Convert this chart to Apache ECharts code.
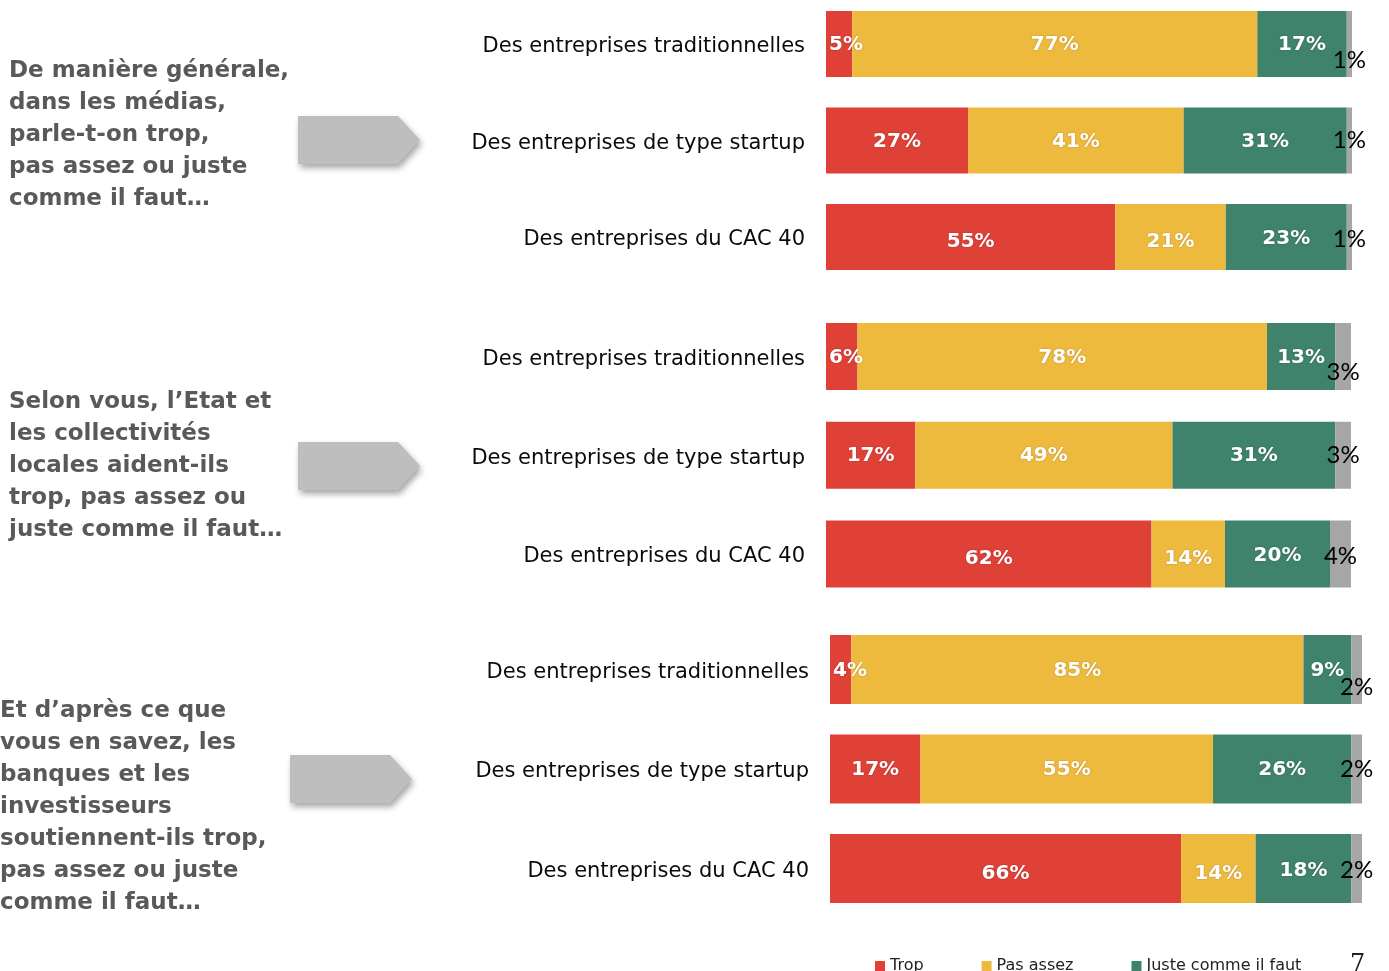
<!DOCTYPE html>
<html>
<head>
<meta charset="utf-8">
<script src="https://cdn.jsdelivr.net/npm/echarts@6/dist/echarts.min.js"></script>
<style>html,body{margin:0;padding:0;background:#fff;}#c{width:1389px;height:971px;}</style>
</head>
<body>
<div id="c"></div>
<script>
const categories = ['Des entreprises traditionnelles', 'Des entreprises de type startup', 'Des entreprises du CAC 40'];
const seriesNames = ['Trop', 'Pas assez', 'Juste comme il faut', 'NSP'];
const legendNames = ['Trop', 'Pas assez', 'Juste comme il faut'];

// Group 1 : médias
const mediasTrop = [5, 27, 55];
const mediasPasAssez = [77, 41, 21];
const mediasJuste = [17, 31, 23];
const mediasNsp = [1, 1, 1];
// Group 2 : Etat et collectivités
const etatTrop = [6, 17, 62];
const etatPasAssez = [78, 49, 14];
const etatJuste = [13, 31, 20];
const etatNsp = [3, 3, 4];
// Group 3 : banques et investisseurs
const banquesTrop = [4, 17, 66];
const banquesPasAssez = [85, 55, 14];
const banquesJuste = [9, 26, 18];
const banquesNsp = [2, 2, 2];

const question1 = ['De manière générale,', 'dans les médias,', 'parle-t-on trop,', 'pas assez ou juste', 'comme il faut…'];
const question2 = ['Selon vous, l’Etat et', 'les collectivités', 'locales aident-ils', 'trop, pas assez ou', 'juste comme il faut…'];
const question3 = ['Et d’après ce que', 'vous en savez, les', 'banques et les', 'investisseurs', 'soutiennent-ils trop,', 'pas assez ou juste', 'comme il faut…'];

const groups = [
  [mediasTrop, mediasPasAssez, mediasJuste, mediasNsp],
  [etatTrop, etatPasAssez, etatJuste, etatNsp],
  [banquesTrop, banquesPasAssez, banquesJuste, banquesNsp]
];

const colors = ['#DF4137', '#EEBA3E', '#3F836D', '#A6A6A6'];

// grid top = centre of first bar, height = distance to centre of last bar (boundaryGap: false)
const gridDefs = [
  { left: 826, right: 37, top: 44, height: 193, barWidth: 66, nspOffset: 16 },
  { left: 826, right: 38, top: 356.5, height: 197.5, barWidth: 67, nspOffset: 16 },
  { left: 830, right: 27, top: 669.5, height: 199, barWidth: 69, nspOffset: 18 }
];

const grids = [], xAxes = [], yAxes = [], series = [];
gridDefs.forEach((g, gi) => {
  grids.push({ left: g.left, right: g.right, top: g.top, height: g.height, containLabel: false });
  xAxes.push({ type: 'value', gridIndex: gi, min: 0, max: 100, show: false });
  yAxes.push({
    type: 'category', gridIndex: gi, data: categories, inverse: true, boundaryGap: false,
    axisLine: { show: false }, axisTick: { show: false }, splitLine: { show: false },
    axisLabel: {
      margin: 21,
      formatter: '{a|{value}}',
      rich: { a: { fontFamily: 'DejaVu Sans', fontSize: 21, color: '#0a0a0a', padding: [6, 0, 0, 0] } }
    }
  });
  groups[gi].forEach((vals, si) => {
    const isNsp = si === 3;
    series.push({
      type: 'bar',
      name: seriesNames[si],
      stack: 'g' + gi,
      xAxisIndex: gi,
      yAxisIndex: gi,
      barWidth: g.barWidth,
      clip: false,
      itemStyle: { color: colors[si] },
      data: vals.map((v, ri) => {
        const label = isNsp ? {
          show: true, position: 'inside', color: '#000', fontFamily: 'Lato', fontSize: 24, fontWeight: 'normal',
          offset: [0, ri === 0 ? g.nspOffset : (ri === 2 ? 2 : 0)]
        } : {
          show: true,
          position: v < 8 ? 'insideLeft' : 'inside',
          distance: 3,
          color: '#fff', fontFamily: 'DejaVu Sans', fontWeight: 'bold', fontSize: 20,
          textShadowColor: 'rgba(0,0,0,0.25)', textShadowBlur: 2,
          offset: [0, ri === 2 ? (si === 2 ? 2 : 5) : 1]
        };
        label.formatter = '{c}%';
        return { value: v, label: label };
      })
    });
  });
});

function arrow(x, y) {
  return {
    type: 'polygon',
    shape: { points: [[x, y], [x + 100, y], [x + 122, y + 24], [x + 100, y + 48], [x, y + 48]] },
    style: { fill: '#BEBEBE', shadowBlur: 6, shadowOffsetX: 2, shadowOffsetY: 4, shadowColor: 'rgba(0,0,0,0.35)' }
  };
}
function question(lines, x, y) {
  return {
    type: 'text', x: x, y: y,
    style: { text: lines.join('\n'), font: 'bold 23px "DejaVu Sans"', fill: '#595959', lineHeight: 32, verticalAlign: 'top', align: 'left' }
  };
}

const chart = echarts.init(document.getElementById('c'), null, { renderer: 'canvas' });
chart.setOption({
  animation: false,
  backgroundColor: '#fff',
  grid: grids,
  xAxis: xAxes,
  yAxis: yAxes,
  series: series,
  legend: {
    data: legendNames, left: 870, top: 953, itemWidth: 10, itemHeight: 10, itemGap: 58, icon: 'rect',
    textStyle: { fontFamily: 'DejaVu Sans', fontSize: 16, color: '#222' }, selectedMode: false
  },
  graphic: [
    question(question1, 9, 55),
    question(question2, 9, 386),
    question(question3, 0, 695),
    arrow(298, 116),
    arrow(298, 442),
    arrow(290, 755),
    { type: 'text', x: 1350, y: 953, style: { text: '7', font: '24px "DejaVu Serif"', fill: '#222' } }
  ]
});
</script>
</body>
</html>
